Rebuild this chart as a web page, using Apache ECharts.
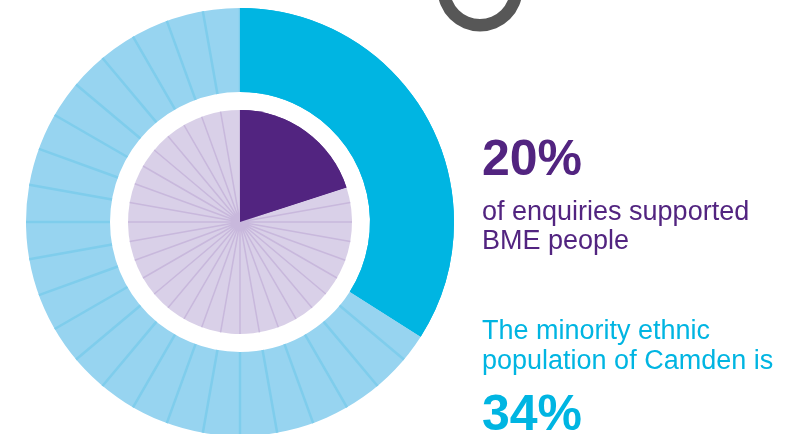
<!DOCTYPE html>
<html>
<head>
<meta charset="utf-8">
<script src="https://cdn.jsdelivr.net/npm/echarts@6/dist/echarts.min.js"></script>
<style>
  html, body { margin: 0; padding: 0; background: #ffffff; }
  #chart { width: 796px; height: 434px; }
</style>
</head>
<body>
<div id="chart"></div>
<script>
// Outer ring: Camden population by ethnicity (percent)
const ringLabels = ['Minority ethnic population', 'Other population'];
const ringValues = [34, 66];

// Inner pie: enquiries by who they supported (percent)
const pieLabels = ['Enquiries supporting BME people', 'Other enquiries'];
const pieValues = [20, 80];

const CYAN = '#00b5e2';
const LIGHT_BLUE = '#97d4f0';
const BLUE_SPOKE = '#7fcdec';
const PURPLE = '#522480';
const LIGHT_PURPLE = '#d9d0e8';
const PURPLE_SPOKE = '#c8b8dc';
const FONT = '"Liberation Sans", Arial, Helvetica, sans-serif';

const center = [240, 222];

function toData(labels, values, colors) {
  return labels.map((name, i) => ({
    name, value: values[i], itemStyle: { color: colors[i], borderWidth: 0 }
  }));
}

function pieSeries(radius, data, z) {
  return {
    type: 'pie', center, radius, startAngle: 90, clockwise: true,
    silent: true, z, label: { show: false }, labelLine: { show: false },
    emphasis: { disabled: true }, animation: false, data
  };
}

// Radial spokes come from the angle axis split lines of two polar systems
function spokeAxis(polarIndex, color, width) {
  return {
    polarIndex, type: 'value', min: 0, max: 360, interval: 10,
    startAngle: 90, clockwise: true, z: 2,
    axisLine: { show: false }, axisTick: { show: false }, axisLabel: { show: false },
    splitLine: { show: true, lineStyle: { color, width } }
  };
}

const chart = echarts.init(document.getElementById('chart'), null, { renderer: 'canvas' });
chart.setOption({
  backgroundColor: '#ffffff',
  animation: false,
  polar: [
    { center, radius: [130, 214] },
    { center, radius: [0, 112] }
  ],
  angleAxis: [
    spokeAxis(0, BLUE_SPOKE, 2.5),
    spokeAxis(1, PURPLE_SPOKE, 1.5)
  ],
  radiusAxis: [
    { polarIndex: 0, show: false, type: 'value', min: 0, max: 1 },
    { polarIndex: 1, show: false, type: 'value', min: 0, max: 1 }
  ],
  series: [
    // base fills (under the spokes)
    pieSeries([130, 214], toData(ringLabels, ringValues, [CYAN, LIGHT_BLUE]), 1),
    pieSeries([0, 112], toData(pieLabels, pieValues, [PURPLE, LIGHT_PURPLE]), 1),
    // highlighted shares drawn above the spokes
    pieSeries([130, 214], toData(ringLabels, ringValues, [CYAN, 'transparent']), 3),
    pieSeries([0, 112], toData(pieLabels, pieValues, [PURPLE, 'transparent']), 3)
  ],
  graphic: [
    { type: 'ring', shape: { cx: 480, cy: -11, r: 42.5, r0: 30 }, style: { fill: '#575757' }, silent: true },
    { type: 'text', x: 482, y: 161, style: { text: pieValues[0] + '%', font: 'bold 50px ' + FONT, fill: PURPLE, verticalAlign: 'middle' } },
    { type: 'text', x: 482, y: 213, style: { text: 'of enquiries supported', font: '27px ' + FONT, fill: PURPLE, verticalAlign: 'middle' } },
    { type: 'text', x: 482, y: 241.5, style: { text: 'BME people', font: '27px ' + FONT, fill: PURPLE, verticalAlign: 'middle' } },
    { type: 'text', x: 482, y: 332, style: { text: 'The minority ethnic', font: '27px ' + FONT, fill: CYAN, verticalAlign: 'middle' } },
    { type: 'text', x: 482, y: 361.5, style: { text: 'population of Camden is', font: '27px ' + FONT, fill: CYAN, verticalAlign: 'middle' } },
    { type: 'text', x: 482, y: 416.5, style: { text: ringValues[0] + '%', font: 'bold 50px ' + FONT, fill: CYAN, verticalAlign: 'middle' } }
  ]
});
</script>
</body>
</html>
